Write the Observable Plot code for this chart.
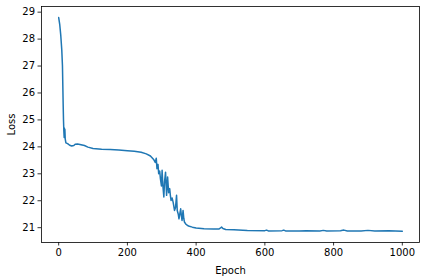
<!DOCTYPE html>
<html>
<head>
<meta charset="utf-8">
<script src="https://cdn.jsdelivr.net/npm/d3@7"></script>
<script src="https://cdn.jsdelivr.net/npm/@observablehq/plot@0.6"></script>
<style>
  html, body { margin: 0; padding: 0; background: #fff; }
  #chart svg { display: block; }
</style>
</head>
<body>
<div id="chart"></div>
<script>
const epochs = [0, 3, 6, 9, 11, 12, 13, 14, 15, 16, 16.5, 17, 18, 19, 21, 26, 32, 38, 44, 48, 55, 65, 75, 85, 100, 125, 150, 175, 200, 220, 240, 255, 267, 277, 281, 284, 286, 289, 291, 294, 296, 299, 301, 303, 306, 308, 311, 314, 317, 320, 323, 325, 327, 330, 333, 335, 337, 340, 343, 345, 348, 350, 353, 355, 357, 359, 362, 364, 366, 370, 374, 380, 389, 400, 423, 450, 466, 470, 474, 478, 486, 510, 549, 600, 605, 610, 650, 655, 660, 700, 720, 760, 770, 780, 820, 830, 840, 880, 900, 920, 960, 1000];
const loss = [28.80, 28.55, 28.15, 27.6, 27.0, 26.3, 25.6, 25.0, 24.6, 24.35, 24.7, 24.4, 24.65, 24.3, 24.15, 24.12, 24.06, 24.03, 24.05, 24.1, 24.11, 24.08, 24.05, 23.99, 23.94, 23.91, 23.90, 23.88, 23.86, 23.84, 23.8, 23.74, 23.66, 23.52, 23.42, 23.58, 23.19, 23.35, 23.0, 23.1, 22.82, 22.55, 23.13, 22.6, 22.14, 22.7, 23.06, 22.2, 22.88, 22.3, 22.45, 22.2, 22.01, 22.1, 21.95, 21.8, 21.64, 21.75, 22.2, 21.64, 21.5, 21.33, 21.55, 21.7, 21.45, 21.27, 21.64, 21.35, 21.21, 21.13, 21.09, 21.05, 21.02, 20.99, 20.96, 20.95, 20.95, 20.98, 21.02, 20.97, 20.93, 20.92, 20.9, 20.89, 20.91, 20.88, 20.89, 20.91, 20.88, 20.88, 20.89, 20.88, 20.9, 20.88, 20.89, 20.91, 20.88, 20.88, 20.9, 20.88, 20.89, 20.87];
const xTicks = [0, 200, 400, 600, 800, 1000];
const yTicks = [21, 22, 23, 24, 25, 26, 27, 28, 29];

const data = epochs.map((e, i) => ({epoch: e, loss: loss[i]}));

const chart = Plot.plot({
  width: 424,
  height: 280,
  marginLeft: 41,
  marginRight: 5,
  marginTop: 6,
  marginBottom: 38,
  style: {fontFamily: "DejaVu Sans", fontSize: "10px", color: "#000", background: "#fff"},
  x: {domain: [-50, 1050]},
  y: {domain: [20.45, 29.21]},
  marks: [
    Plot.axisX({ticks: xTicks, tickFormat: d => String(d), tickSize: 3.5, tickPadding: 3, fontSize: 10, label: "Epoch", labelAnchor: "center", labelArrow: "none", labelOffset: 31, stroke: "#000", strokeWidth: 0.8, strokeOpacity: 1}),
    Plot.axisY({ticks: yTicks, tickFormat: d => String(d), tickSize: 3.5, tickPadding: 3, fontSize: 10, label: "Loss", labelAnchor: "center", labelArrow: "none", labelOffset: 34, stroke: "#000", strokeWidth: 0.8, strokeOpacity: 1}),
    Plot.line(data, {x: "epoch", y: "loss", stroke: "#1f77b4", strokeWidth: 1.5}),
    Plot.frame({stroke: "#000", strokeWidth: 0.8})
  ]
});
document.getElementById("chart").appendChild(chart);
</script>
</body>
</html>
